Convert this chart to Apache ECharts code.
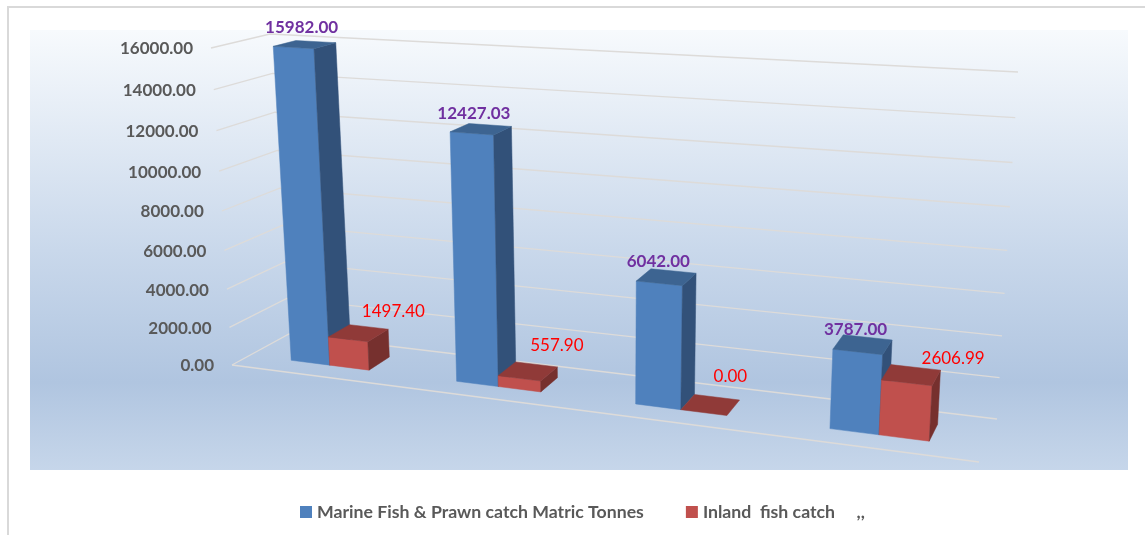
<!DOCTYPE html>
<html>
<head>
<meta charset="utf-8" />
<style>
  html, body { margin: 0; padding: 0; background: #fff; }
  #mains { width: 1145px; height: 535px; }
</style>
<script src="https://cdn.jsdelivr.net/npm/echarts@6/dist/echarts.min.js"></script>
</head>
<body>
<div id="mains"></div>
<script>
var categories = ["A", "B", "C", "D"];
var marineValues = [15982.0, 12427.03, 6042.0, 3787.0];
var inlandValues = [1497.4, 557.9, 0.0, 2606.99];
var tickValues = [0, 2000, 4000, 6000, 8000, 10000, 12000, 14000, 16000];
var marineName = "Marine Fish & Prawn catch Matric Tonnes";
var inlandName = "Inland  fish catch     ,,";

// hand placed label shifts, relative to the centre of each bar top
var marineShift = [[-3, -17], [-7, -16], [-8, -16], [-7, -15]];
var inlandShift = [[35, -22], [29, -26], [20, -28], [42, -17]];

var FONT = "Lato";
var GREY = "#595959";

// corners of the 3D box in the picture: [x, y]
var floorFrontLeft = [232, 365];
var floorFrontRight = [979, 462];
var floorBackLeft = [289, 334];
var floorBackRight = [997, 419];
var topFrontLeft = [211, 48];
var topFrontRight = [1001, 95];
var topBackLeft = [270, 34];
var topBackRight = [1018, 72];

var BAR_FRONT = 0.32;
var BAR_BACK = 0.72;
var BAR_WIDTH = 0.24; // of the category band

function lerp(a, b, k) {
  return [a[0] + (b[0] - a[0]) * k, a[1] + (b[1] - a[1]) * k];
}

function persp(k, a) {
  return (k * a) / (1 - k + k * a);
}

// u across, t up, d into the picture, all 0..1
function project(u, t, d) {
  var pu = persp(u, 0.85);
  var pt = persp(t, 0.945);
  var bottom = lerp(
    lerp(floorFrontLeft, floorFrontRight, pu),
    lerp(floorBackLeft, floorBackRight, pu),
    d
  );
  var top = lerp(
    lerp(topFrontLeft, topFrontRight, pu),
    lerp(topBackLeft, topBackRight, pu),
    d
  );
  return lerp(bottom, top, pt);
}

function toUnit(params, api, cat, val) {
  var rect = params.coordSys;
  var p = api.coord([cat, val]);
  return {
    u: (p[0] - rect.x) / rect.width,
    t: (rect.y + rect.height - p[1]) / rect.height,
    band: api.size([1, 0])[0] / rect.width,
  };
}

function face(points, color) {
  return {
    type: "polygon",
    shape: { points: points },
    style: { fill: color, stroke: color, lineWidth: 0.5 },
  };
}

function barRenderer(colors, labelColor, labelWeight, shifts, side) {
  return function (params, api) {
    var i = api.value(0);
    var v = api.value(1);
    var c = toUnit(params, api, i, v);
    var w = c.band * BAR_WIDTH;
    var u0 = c.u + side * w;
    var u1 = u0 + w;
    var f = BAR_FRONT;
    var b = BAR_BACK;
    var children = [];
    if (c.t > 0) {
      children.push(
        face(
          [project(u0, 0, f), project(u1, 0, f), project(u1, c.t, f), project(u0, c.t, f)],
          colors[0]
        )
      );
      children.push(
        face(
          [project(u1, 0, f), project(u1, 0, b), project(u1, c.t, b), project(u1, c.t, f)],
          colors[1]
        )
      );
    }
    children.push(
      face(
        [project(u0, c.t, f), project(u1, c.t, f), project(u1, c.t, b), project(u0, c.t, b)],
        colors[2]
      )
    );
    var mid = project((u0 + u1) / 2, c.t, (f + b) / 2);
    children.push({
      type: "text",
      z2: 10,
      style: {
        text: v.toFixed(2),
        x: mid[0] + shifts[i][0],
        y: mid[1] + shifts[i][1],
        align: "center",
        verticalAlign: "middle",
        fill: labelColor,
        fontFamily: FONT,
        fontSize: 17,
        fontWeight: labelWeight,
      },
    });
    return { type: "group", children: children };
  };
}

function wallRenderer(params, api) {
  var v = api.value(1);
  var c = toUnit(params, api, 0, v);
  var a = project(0, c.t, 0);
  var m = project(0, c.t, 1);
  var e = project(1, c.t, 1);
  var lineStyle = { stroke: "#dddbd9", lineWidth: 1.3, fill: null };
  var children = [
    { type: "polyline", shape: { points: [a, m, e] }, style: lineStyle },
    {
      type: "text",
      style: {
        text: v.toFixed(2),
        x: a[0] - 18,
        y: a[1] + 1,
        align: "right",
        verticalAlign: "middle",
        fill: GREY,
        fontFamily: FONT,
        fontSize: 17,
        fontWeight: "bold",
      },
    },
  ];
  if (v === 0) {
    children.push({
      type: "line",
      shape: {
        x1: a[0],
        y1: a[1],
        x2: project(1, 0, 0)[0],
        y2: project(1, 0, 0)[1],
      },
      style: lineStyle,
    });
  }
  return { type: "group", children: children };
}

var myCharts = echarts.init(document.getElementById("mains"));
var option = {
  backgroundColor: "#fff",
  animation: false,
  color: ["#4f81bd", "#c0504d"],
  graphic: [
    {
      type: "rect",
      shape: { x: 30, y: 30, width: 1098, height: 440 },
      style: {
        fill: new echarts.graphic.LinearGradient(0, 0, 0, 1, [
          { offset: 0, color: "#f7fafd" },
          { offset: 0.5, color: "#c9d8eb" },
          { offset: 0.8, color: "#b0c5e0" },
          { offset: 1, color: "#c6d6ea" },
        ]),
      },
    },
    {
      type: "line",
      shape: { x1: 7, y1: 7, x2: 1145, y2: 7 },
      style: { stroke: "#d9d9d9", lineWidth: 2 },
    },
    {
      type: "line",
      shape: { x1: 8, y1: 7, x2: 8, y2: 535 },
      style: { stroke: "#d9d9d9", lineWidth: 2 },
    },
  ],
  grid: { left: 211, top: 48, width: 807, height: 317 },
  xAxis: { type: "category", data: categories, show: false },
  yAxis: { type: "value", min: 0, max: 16000, interval: 2000, show: false },
  legend: {
    left: 295,
    top: 498,
    data: [marineName, inlandName],
    selectedMode: false,
    icon: "rect",
    itemWidth: 12,
    itemHeight: 12,
    itemGap: 42,
    textStyle: {
      color: GREY,
      fontFamily: FONT,
      fontSize: 17.7,
      fontWeight: "bold",
    },
  },
  series: [
    {
      name: "walls",
      type: "custom",
      z: 1,
      silent: true,
      renderItem: wallRenderer,
      data: tickValues.map(function (v) {
        return [0, v];
      }),
    },
    {
      name: marineName,
      type: "custom",
      z: 2,
      itemStyle: { color: "#4f81bd" },
      renderItem: barRenderer(["#4f81bd", "#325179", "#3d6491"], "#7030a0", "bold", marineShift, -1),
      data: marineValues.map(function (v, i) {
        return [i, v];
      }),
    },
    {
      name: inlandName,
      type: "custom",
      z: 3,
      itemStyle: { color: "#c0504d" },
      renderItem: barRenderer(["#c0504d", "#76302e", "#903a38"], "#ff0000", "normal", inlandShift, 0),
      data: inlandValues.map(function (v, i) {
        return [i, v];
      }),
    },
  ],
};
myCharts.setOption(option);
</script>
</body>
</html>
